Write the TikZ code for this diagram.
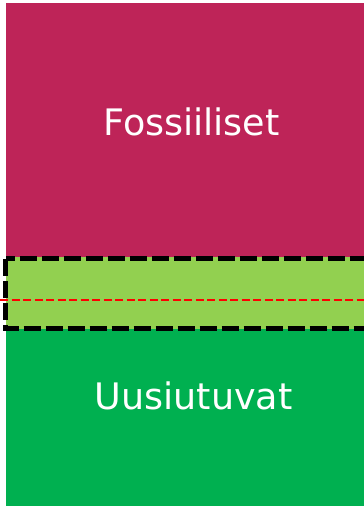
\documentclass[tikz,border=0pt]{standalone}
\usepackage{fontspec}
\setmainfont{DejaVu Sans}
\definecolor{fossil}{RGB}{190,36,88}
\definecolor{lightgreen}{RGB}{146,208,80}
\definecolor{darkgreen}{RGB}{0,176,80}

\begin{document}
\begin{tikzpicture}[x=1pt,y=-1pt]
\tikzstyle{every node}=[text=white,font=\fontsize{36.5}{42}\selectfont]
\tikzstyle{share}=[draw=none,inner sep=0pt]
\useasboundingbox (0,0) rectangle (364,507);
\clip (0,0) rectangle (364,507);
\fill[fossil] (6,3) rectangle (370,257);
\fill[lightgreen] (6,257) rectangle (370,329);
\fill[darkgreen] (6,329) rectangle (370,506);
\node[share,anchor=base] (fossiiliset) at (191.5,135) {Fossiiliset};
\node[share,anchor=base] (uusiutuvat) at (193.5,409) {Uusiutuvat};
% epavarma osuus
\draw[black,line width=5.5pt,dash pattern=on 17pt off 5pt] (5.5,258.5) rectangle (380,328.5);
\draw[red,line width=2.5pt,dash pattern=on 8pt off 3.5pt] (0,300) -- (364,300);
\end{tikzpicture}
\end{document}
